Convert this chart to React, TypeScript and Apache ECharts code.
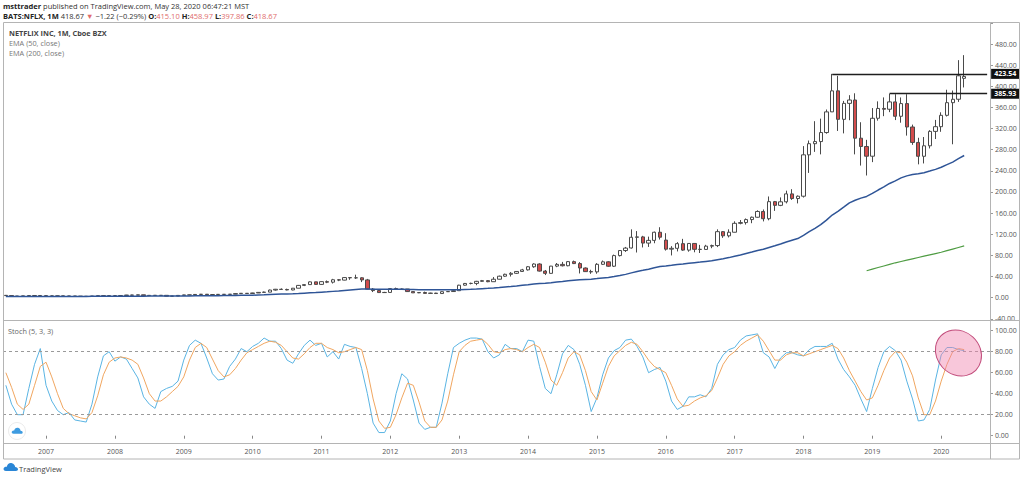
import React, { useEffect, useRef } from "react";
import * as echarts from "echarts";

// ---------- data ----------
const years = ["2006","2007","2008","2009","2010","2011","2012","2013","2014","2015","2016","2017","2018","2019","2020"];
const monthsOfYear = ["01","02","03","04","05","06","07","08","09","10","11","12"];
const firstMonth = "2006-06";
const lastMonth = "2020-09";

// monthly candles [open, close, low, high]
const c2006 = [[4.4,3.9,3.6,4.5],[3.9,2.8,2.6,4.0],[2.8,2.9,2.7,3.1],[2.9,3.3,2.8,3.4],[3.3,3.9,3.2,4.1],[3.9,4.1,3.7,4.4],[4.1,3.7,3.5,4.2]];
const c2007 = [[3.7,3.3,3.1,3.8],[3.3,3.3,3.1,3.5],[3.3,3.3,3.0,3.5],[3.3,3.1,3.0,3.5],[3.1,3.0,2.9,3.2],[3.0,2.8,2.7,3.1],[2.8,2.5,2.3,3.0],[2.5,2.5,2.2,2.7],[2.5,3.0,2.4,3.1],[3.0,3.7,2.9,4.0],[3.7,3.3,3.1,3.9],[3.3,3.8,3.2,4.0]];
const c2008 = [[3.8,3.6,2.9,3.9],[3.6,4.1,3.5,4.3],[4.1,5.0,4.0,5.2],[5.0,4.6,4.3,5.3],[4.6,5.4,4.5,5.6],[5.4,3.7,3.6,5.5],[3.7,4.4,3.6,4.6],[4.4,4.3,4.0,4.6],[4.3,4.4,3.7,4.8],[4.4,2.8,2.5,4.5],[2.8,3.0,2.4,3.3],[3.0,4.3,2.9,4.4]];
const c2009 = [[4.3,5.2,4.1,5.5],[5.2,5.1,4.8,5.5],[5.1,6.1,4.7,6.3],[6.1,6.5,5.9,7.0],[6.5,5.6,5.4,6.6],[5.6,5.9,5.3,6.1],[5.9,6.3,5.6,6.6],[6.3,6.2,5.9,6.5],[6.2,6.6,6.0,6.8],[6.6,7.7,6.4,8.3],[7.7,8.3,7.6,8.6],[8.3,7.9,7.7,8.7]];
const c2010 = [[7.9,8.9,7.6,9.3],[8.9,10.0,8.9,10.3],[10.0,10.5,9.5,11.5],[10.5,14.4,10.4,15.3],[14.4,15.9,13.3,16.5],[15.9,15.5,14.9,17.5],[15.5,14.6,13.9,17.0],[14.6,17.9,14.0,18.2],[17.9,23.2,17.8,24.0],[23.2,24.7,21.9,25.0],[24.7,29.9,24.5,30.7],[29.9,25.1,24.5,30.0]];
const c2011 = [[25.1,30.3,24.3,30.8],[30.3,29.3,27.5,32.5],[29.3,33.9,26.8,35.6],[33.9,33.2,31.3,35.2],[33.2,38.0,32.8,39.0],[38.0,37.5,33.8,38.6],[37.5,37.6,35.5,43.5],[37.6,33.6,29.5,38.5],[33.6,16.2,15.7,35.5],[16.2,13.4,10.6,18.2],[13.4,9.6,9.4,14.0],[9.6,9.9,9.0,11.0]];
const c2012 = [[9.9,17.2,9.8,17.5],[17.2,15.7,15.4,19.0],[15.7,16.4,14.9,17.3],[16.4,11.5,11.0,16.5],[11.5,9.1,9.0,11.6],[9.1,9.8,8.6,10.4],[9.8,8.1,7.8,11.4],[8.1,8.6,7.8,9.4],[8.6,7.8,7.5,9.2],[7.8,11.3,7.6,11.7],[11.3,11.6,10.7,12.4],[11.6,13.2,11.4,13.9]];
const c2013 = [[13.2,23.6,13.1,24.4],[23.6,26.9,22.8,27.8],[26.9,27.0,25.2,28.4],[27.0,30.9,23.6,31.8],[30.9,32.2,29.9,33.5],[32.2,30.2,29.3,33.3],[30.2,34.9,30.1,39.0],[34.9,40.6,34.6,41.7],[40.6,44.2,39.4,45.4],[44.2,46.1,40.0,48.4],[46.1,49.6,44.8,50.0],[49.6,52.6,48.8,54.5]];
const c2014 = [[52.6,58.5,51.3,59.7],[58.5,63.7,56.5,65.1],[63.7,50.3,49.4,65.0],[50.3,46.0,42.8,52.4],[46.0,59.7,45.6,60.1],[59.7,63.0,57.7,65.6],[63.0,60.4,59.1,67.7],[60.4,68.2,59.4,69.3],[68.2,64.5,63.6,70.2],[64.5,56.1,45.8,67.3],[56.1,49.3,49.0,57.2],[49.3,48.8,45.1,52.8]];
const c2015 = [[48.8,63.1,45.3,65.4],[63.1,67.8,62.0,70.3],[67.8,59.5,58.4,69.0],[59.5,79.6,58.0,81.5],[79.6,89.2,78.0,89.9],[89.2,93.8,86.5,96.0],[94.0,114.3,93.0,129.3],[114.3,115.0,85.5,126.0],[115.0,103.3,95.0,117.0],[103.3,108.4,96.0,115.5],[108.4,123.8,103.0,125.0],[123.8,114.4,110.0,133.3]];
const c2016 = [[109.0,91.8,89.1,122.0],[91.8,93.4,79.9,97.5],[93.4,102.2,87.5,105.1],[102.2,90.0,88.6,111.3],[90.0,102.6,87.0,103.0],[102.6,91.5,85.9,103.0],[91.5,91.3,84.5,99.9],[91.3,97.5,90.8,100.0],[97.5,98.6,93.6,100.4],[98.6,124.9,95.7,129.3],[124.9,117.0,113.2,126.0],[117.0,123.8,114.0,129.3]];
const c2017 = [[123.8,140.7,124.0,144.5],[140.7,142.1,138.8,146.9],[142.1,147.8,138.3,149.9],[147.8,152.2,140.9,153.5],[152.2,163.1,151.3,165.3],[163.1,149.4,144.3,166.9],[149.4,181.7,146.4,191.5],[181.7,174.7,164.2,183.0],[174.7,181.4,173.2,189.7],[181.4,196.4,178.4,202.5],[196.4,187.6,185.0,205.3],[187.6,192.0,178.4,193.5]];
const c2018 = [[192.0,270.3,189.5,286.8],[270.3,291.4,236.1,297.4],[291.4,295.4,275.9,334.0],[295.4,312.5,271.2,338.8],[312.5,351.6,310.3,356.1],[351.6,391.4,352.0,423.54],[391.4,337.5,315.5,419.8],[337.5,367.7,310.9,372.4],[367.7,374.1,335.8,383.2],[374.1,301.8,271.2,386.8],[301.8,286.1,250.0,332.0],[286.1,267.7,231.2,298.7]];
const c2019 = [[267.7,339.5,256.5,358.8],[339.5,358.1,335.0,371.5],[358.1,356.6,343.5,379.0],[356.6,370.5,351.1,385.93],[370.5,343.3,336.1,385.0],[343.3,367.3,331.1,378.9],[367.3,323.0,306.7,385.0],[323.0,293.8,289.2,327.5],[293.8,267.6,252.3,302.6],[267.6,287.4,254.0,304.0],[287.4,314.7,282.4,317.0],[314.7,323.6,300.2,336.4]];
const c2020 = [[323.6,345.1,313.9,350.8],[345.1,369.0,342.9,393.5],[369.0,375.5,290.3,392.0],[375.5,419.9,370.5,449.5],[415.1,418.67,397.86,458.97]];

// EMA (50, close)
const e2006 = [2.0,2.0,2.1,2.1,2.2,2.2,2.3];
const e2007 = [2.3,2.3,2.4,2.4,2.4,2.4,2.4,2.4,2.5,2.5,2.5,2.6];
const e2008 = [2.6,2.7,2.8,2.8,2.9,2.9,3.0,3.0,3.1,3.1,3.1,3.2];
const e2009 = [3.3,3.3,3.4,3.5,3.6,3.7,3.8,3.9,4.0,4.2,4.4,4.5];
const e2010 = [4.7,5.0,5.3,5.8,6.3,6.7,7.0,7.4,7.9,8.5,9.1,9.6];
const e2011 = [10.3,11.0,11.9,12.7,13.7,14.6,15.5,16.2,16.2,16.1,15.9,15.7];
const e2012 = [15.8,15.8,15.8,15.6,15.4,15.2,15.0,14.9,14.8,14.8,14.8,14.8];
const e2013 = [15.1,15.5,15.9,16.4,17.1,17.6,18.3,19.2,20.2,21.2,22.3,23.5];
const e2014 = [24.5,25.8,26.6,27.3,28.4,29.6,30.6,31.9,33.0,33.8,34.4,35.0];
const e2015 = [36.1,37.4,38.3,40.0,42.0,44.1,46.9,49.6,51.7,53.9,56.6,58.8];
const e2016 = [60.0,61.3,62.8,63.8,65.2,66.3,67.3,68.5,69.7,71.9,73.8,75.8];
const e2017 = [78.4,80.9,83.6,86.3,89.3,91.6,95.1,98.2,101.5,105.3,108.6,111.8];
const e2018 = [118.0,124.8,131.3,138.4,146.8,156.4,163.4,171.4,179.5,184.3,188.4,191.6];
const e2019 = [197.4,203.7,209.6,216.1,221.0,226.7,230.5,233.0,234.4,236.5,239.6,242.8];
const e2020 = [246.8,251.7,256.6,263.0,269.1];

// EMA (200, close), only drawn from Dec 2018
const ema200Start = "2018-12";
const ema200Values = [51,54,57,60,63,66,68.5,71,73.5,76,78.5,81,83.5,86,89,92,95,98];

// Stoch (5,3,3) %K
const k2006 = [48,30,20,20,45,68,83];
const k2007 = [48,33,24,20,22,15,14,13,30,56,76,80];
const k2008 = [71,75,73,64,55,37,30,26,42,45,47,52];
const k2009 = [72,86,91,88,74,59,53,54,66,73,83,80];
const k2010 = [85,88,93,90,90,83,72,69,78,86,91,86];
const k2011 = [88,75,80,73,87,85,84,64,40,12,3,3];
const k2012 = [14,40,59,54,34,12,6,8,8,31,59,84];
const k2013 = [88,91,93,93,92,80,74,77,87,83,83,80];
const k2014 = [91,90,66,45,40,58,78,86,82,68,48,23];
const k2015 = [36,58,74,81,84,91,92,85,75,60,63,65];
const k2016 = [52,33,25,28,37,37,39,37,45,68,77,82];
const k2017 = [84,91,95,96,97,79,75,64,74,79,79,77];
const k2018 = [76,82,85,85,85,88,73,63,56,48,35,23];
const k2019 = [45,65,80,85,81,72,52,35,14,15,25,53];
const k2020 = [77,84,84,82,81];

// Stoch %D
const d2006 = [60,46,30,25,30,48,66];
const d2007 = [70,56,40,26,21,19,17,16,22,38,58,70];
const d2008 = [74,75,74,72,68,55,40,33,33,37,42,47];
const d2009 = [56,72,84,88,84,73,62,56,58,64,72,79];
const d2010 = [82,85,88,90,89,86,80,74,73,78,84,88];
const d2011 = [88,84,82,79,80,82,84,82,62,35,14,7];
const d2012 = [8,20,36,50,48,32,14,8,8,15,33,58];
const d2013 = [80,86,90,91,92,87,80,79,82,83,82,80];
const d2014 = [84,87,84,70,53,48,60,74,80,77,62,42];
const d2015 = [34,50,66,76,81,86,89,87,80,72,66,63];
const d2016 = [60,48,35,28,29,33,36,38,43,55,68,76];
const d2017 = [80,86,90,93,96,90,81,72,72,77,79,79];
const d2018 = [76,78,80,82,84,86,83,74,62,52,42,34];
const d2019 = [36,48,62,74,80,79,70,57,36,20,20,33];
const d2020 = [52,68,80,83,82];

// horizontal levels
const levelHigh = { from: "2018-06", value: 423.54 };
const levelLow = { from: "2019-04", value: 385.93 };
const highlight = { at: "2020-04", value: 78.8 };

const priceTicks = { min: -40, max: 520, step: 40 };
const stochTicks = { min: 0, max: 100, step: 20 };
const stochBands = [80, 20];

// ---------- derived ----------
const categories = years
  .flatMap((y) => monthsOfYear.map((m) => `${y}-${m}`))
  .filter((c) => c >= firstMonth && c <= lastMonth);
const lastCat = categories[categories.length - 1];

const candleData = [...c2006, ...c2007, ...c2008, ...c2009, ...c2010, ...c2011, ...c2012, ...c2013, ...c2014, ...c2015, ...c2016, ...c2017, ...c2018, ...c2019, ...c2020];
const ema50Data = [...e2006, ...e2007, ...e2008, ...e2009, ...e2010, ...e2011, ...e2012, ...e2013, ...e2014, ...e2015, ...e2016, ...e2017, ...e2018, ...e2019, ...e2020];
const kData = [...k2006, ...k2007, ...k2008, ...k2009, ...k2010, ...k2011, ...k2012, ...k2013, ...k2014, ...k2015, ...k2016, ...k2017, ...k2018, ...k2019, ...k2020];
const dData = [...d2006, ...d2007, ...d2008, ...d2009, ...d2010, ...d2011, ...d2012, ...d2013, ...d2014, ...d2015, ...d2016, ...d2017, ...d2018, ...d2019, ...d2020];
const ema200Idx = categories.indexOf(ema200Start);
const ema200Data = categories
  .slice(0, ema200Idx + ema200Values.length)
  .map((_, i) => (i < ema200Idx ? "-" : ema200Values[i - ema200Idx]));

const FONT = "'Open Sans', 'Noto Sans', sans-serif";
const cloudPath =
  "M3 10 C1 10 0 8.5 0.8 7 C1.5 5.8 2.8 5.5 3.8 5.8 C4.2 3 6.5 1.5 9 2.2 C10.8 2.7 12 4.2 12.2 6 C13.8 6 15 7.2 15 8.3 C15 9.3 14.2 10 13 10 Z";
echarts.graphic.registerShape("tvcloud", echarts.graphic.extendPath(cloudPath, {}));

const FRAME = "#b4b4b4";

export default function App() {
  const ref = useRef<HTMLDivElement>(null);

  useEffect(() => {
    if (!ref.current) return;
    const chart = echarts.init(ref.current, undefined, { renderer: "svg" });

    const axisLabelBase = { fontSize: 7, color: "#555", fontFamily: FONT };
    const levelLine = (lv: { from: string; value: number }) => [
      { coord: [lv.from, lv.value], name: lv.value.toFixed(2) },
      { coord: [lastCat, lv.value] },
    ];

    chart.setOption({
      animation: false,
      backgroundColor: "#ffffff",
      textStyle: { fontFamily: FONT },
      grid: [
        { left: 3, right: 34, top: 22.9, height: 295.9 },
        { left: 3, right: 34, top: 330.7, height: 105 },
      ],
      xAxis: [
        {
          type: "category",
          gridIndex: 0,
          data: categories,
          boundaryGap: true,
          axisLine: { show: false },
          axisTick: { show: false },
          axisLabel: { show: false },
          splitLine: { show: false },
        },
        {
          type: "category",
          gridIndex: 1,
          data: categories,
          boundaryGap: true,
          offset: 7.3,
          axisLine: { show: false },
          axisTick: {
            show: true,
            alignWithLabel: true,
            length: 3,
            interval: (_i: number, v: string) => v.slice(5) === "01",
            lineStyle: { color: "#888" },
          },
          axisLabel: {
            ...axisLabelBase,
            margin: 5,
            interval: (_i: number, v: string) => v.slice(5) === "01",
            formatter: (v: string) => v.slice(0, 4),
          },
          splitLine: { show: false },
        },
      ],
      yAxis: [
        {
          type: "value",
          gridIndex: 0,
          position: "right",
          min: priceTicks.min,
          max: priceTicks.max,
          interval: priceTicks.step,
          axisLine: { show: false },
          axisTick: { show: true, length: 3, lineStyle: { color: "#999" } },
          axisLabel: {
            ...axisLabelBase,
            margin: 5,
            formatter: (v: number) => (v === priceTicks.max ? "" : v.toFixed(2)),
          },
          splitLine: { show: false },
        },
        {
          type: "value",
          gridIndex: 1,
          position: "right",
          min: stochTicks.min,
          max: stochTicks.max,
          interval: stochTicks.step,
          axisLine: { show: false },
          axisTick: { show: true, length: 3, lineStyle: { color: "#999" } },
          axisLabel: { ...axisLabelBase, margin: 5, formatter: (v: number) => v.toFixed(2) },
          splitLine: { show: false },
        },
      ],
      series: [
        {
          type: "candlestick",
          xAxisIndex: 0,
          yAxisIndex: 0,
          data: candleData,
          barWidth: "66%",
          itemStyle: {
            color: "#ffffff",
            color0: "#d24c4c",
            borderColor: "#4a4a4a",
            borderColor0: "#4a4a4a",
            borderWidth: 1,
          },
          markLine: {
            silent: true,
            symbol: ["none", "none"],
            lineStyle: { color: "#1e1e1e", width: 1.4, type: "solid" },
            label: {
              show: true,
              position: "end",
              distance: 4,
              formatter: "{b}",
              color: "#ffffff",
              backgroundColor: "#111111",
              fontSize: 7,
              fontWeight: "bold",
              fontFamily: FONT,
              padding: [2, 3, 1, 3],
            },
            data: [levelLine(levelHigh), levelLine(levelLow)],
          },
        },
        {
          type: "line",
          xAxisIndex: 0,
          yAxisIndex: 0,
          data: ema50Data,
          showSymbol: false,
          smooth: false,
          lineStyle: { color: "#2f5597", width: 1.5 },
          z: 3,
        },
        {
          type: "line",
          xAxisIndex: 0,
          yAxisIndex: 0,
          data: ema200Data,
          showSymbol: false,
          lineStyle: { color: "#4f9c43", width: 1.2 },
          z: 3,
        },
        {
          type: "line",
          xAxisIndex: 1,
          yAxisIndex: 1,
          data: kData,
          showSymbol: false,
          lineStyle: { color: "#5ab4e3", width: 1 },
          markLine: {
            silent: true,
            symbol: ["none", "none"],
            label: { show: false },
            lineStyle: { color: "#9a9a9a", width: 1, type: [3, 3] },
            data: stochBands.map((b) => ({ yAxis: b })),
          },
        },
        {
          type: "line",
          xAxisIndex: 1,
          yAxisIndex: 1,
          data: dData,
          showSymbol: false,
          lineStyle: { color: "#f0a660", width: 1 },
          markPoint: {
            silent: true,
            symbol: "circle",
            symbolSize: [49, 43],
            symbolRotate: -45,
            label: { show: false },
            itemStyle: {
              color: "rgba(240,130,172,0.45)",
              borderColor: "#c24d7c",
              borderWidth: 1,
            },
            data: [{ coord: [highlight.at, highlight.value] }],
          },
        },
      ],
      graphic: [
        // frame
        { type: "rect", shape: { x: 3.5, y: 22.5, width: 1016, height: 436.5 }, style: { fill: "none", stroke: FRAME, lineWidth: 1 }, silent: true, z: 20 },
        { type: "line", shape: { x1: 990.5, y1: 22.5, x2: 990.5, y2: 459 }, style: { stroke: FRAME, lineWidth: 1 }, silent: true, z: 20 },
        { type: "line", shape: { x1: 3.5, y1: 320.5, x2: 1019.5, y2: 320.5 }, style: { stroke: FRAME, lineWidth: 1 }, silent: true, z: 20 },
        { type: "line", shape: { x1: 3.5, y1: 443.5, x2: 1019.5, y2: 443.5 }, style: { stroke: FRAME, lineWidth: 1 }, silent: true, z: 20 },
        // header
        {
          type: "text",
          x: 3,
          y: 5.5,
          style: {
            text: "{b|msttrader} published on TradingView.com, May 28, 2020 06:47:21 MST",
            fontSize: 7.5,
            fontFamily: FONT,
            fill: "#333",
            verticalAlign: "middle",
            rich: { b: { fontWeight: "bold", fontSize: 7.5, fontFamily: FONT, fill: "#222" } },
          },
        },
        {
          type: "text",
          x: 3,
          y: 16,
          style: {
            text:
              "{b|BATS:NFLX, 1M} 418.67 {r|▼} −1.22 (−0.29%) {b|O:}{r|415.10} {b|H:}{r|458.97} {b|L:}{r|397.86} {b|C:}{r|418.67}",
            fontSize: 7.5,
            fontFamily: FONT,
            fill: "#333",
            verticalAlign: "middle",
            rich: {
              b: { fontWeight: "bold", fontSize: 7.5, fontFamily: FONT, fill: "#222" },
              r: { fontSize: 7.5, fontFamily: FONT, fill: "#e06b6b" },
            },
          },
        },
        // legend in the price pane
        { type: "text", x: 9, y: 33.3, style: { text: "NETFLIX INC, 1M, Cboe BZX", fontSize: 7.3, fontWeight: "bold", fontFamily: FONT, fill: "#444", verticalAlign: "middle" } },
        { type: "text", x: 9, y: 43.3, style: { text: "EMA (50, close)", fontSize: 7.3, fontFamily: FONT, fill: "#777", verticalAlign: "middle" } },
        { type: "text", x: 9, y: 52.7, style: { text: "EMA (200, close)", fontSize: 7.3, fontFamily: FONT, fill: "#777", verticalAlign: "middle" } },
        // stoch title
        { type: "text", x: 8, y: 330.5, style: { text: "Stoch (5, 3, 3)", fontSize: 7.3, fontFamily: FONT, fill: "#666", verticalAlign: "middle" } },
        // stoch pane icon
        { type: "circle", shape: { cx: 17, cy: 431, r: 8.5 }, style: { fill: "#ffffff", stroke: "#ececec", lineWidth: 1 }, z: 21 },
        { type: "tvcloud", x: 11.3, y: 426.2, scaleX: 0.76, scaleY: 0.76, style: { fill: "#3d9be0" }, z: 22 },
        // bottom logo
        { type: "tvcloud", x: 3, y: 461, scaleX: 1.0, scaleY: 1.0, style: { fill: "#2a86d6" } },
        { type: "text", x: 19, y: 468.5, style: { text: "TradingView", fontSize: 7.5, fontFamily: FONT, fill: "#444", verticalAlign: "middle" } },
      ],
    });

    return () => chart.dispose();
  }, []);

  return (
    <div
      ref={ref}
      style={{ position: "fixed", left: 0, top: 0, width: 1024, height: 480, background: "#fff" }}
    />
  );
}
